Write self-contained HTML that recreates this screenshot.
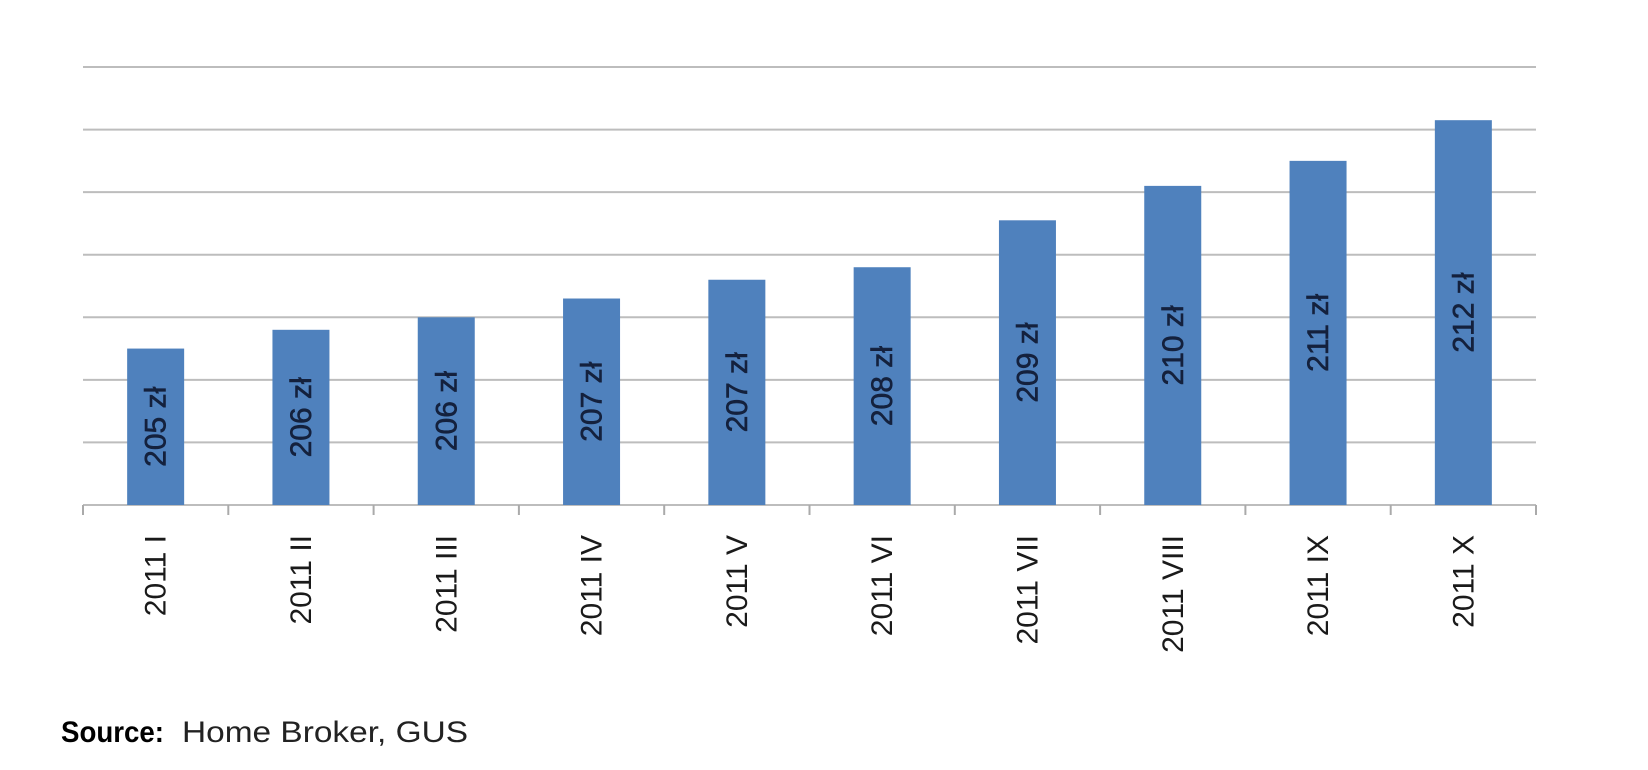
<!DOCTYPE html>
<html><head><meta charset="utf-8"><style>
html,body{margin:0;padding:0;background:#fff;width:1648px;height:770px;overflow:hidden}
svg{display:block}
</style></head><body>
<svg id="chart" width="1648" height="770" xmlns="http://www.w3.org/2000/svg">
<g id="grid"></g>
<g id="bars"></g>
<g id="xaxis"></g>
<text x="61" y="742" font-family="'Liberation Sans',sans-serif" font-weight="bold" font-size="30" fill="#000" textLength="103" lengthAdjust="spacingAndGlyphs">Source:</text>
<text x="182" y="742" font-family="'Liberation Sans',sans-serif" font-size="30" fill="#222" textLength="286" lengthAdjust="spacingAndGlyphs">Home Broker, GUS</text>
</svg>
<script>
const categories = ["2011 I","2011 II","2011 III","2011 IV","2011 V","2011 VI","2011 VII","2011 VIII","2011 IX","2011 X"];
const values = [205.0,205.6,206.0,206.6,207.2,207.6,209.1,210.2,211.0,212.3];
const valueLabels = ["205 zł","206 zł","206 zł","207 zł","207 zł","208 zł","209 zł","210 zł","211 zł","212 zł"];
const yTicks = [200,202,204,206,208,210,212,214];

const NS = "http://www.w3.org/2000/svg";
const plotLeft = 83, plotRight = 1536, plotBase = 505, plotTop = 67;
const yMin = 200, yMax = 214;
const yScale = v => plotBase - (v - yMin) / (yMax - yMin) * (plotBase - plotTop);
const band = (plotRight - plotLeft) / categories.length;
const xc = i => plotLeft + band * (i + 0.5);
const barW = 57;

function mk(tag, attrs, parent) {
  const e = document.createElementNS(NS, tag);
  for (const k in attrs) e.setAttribute(k, attrs[k]);
  parent.appendChild(e);
  return e;
}
const grid = document.getElementById('grid');
yTicks.forEach(t => {
  const l = mk('line', {x1: plotLeft, x2: plotRight, y1: yScale(t), y2: yScale(t), stroke: '#bdbdbd', 'stroke-width': 2}, grid);
  
  
});
const xaxis = document.getElementById('xaxis');
for (let i = 0; i <= categories.length; i++) {
  const tx = plotLeft + band * i;
  const t = mk('line', {x1: tx, x2: tx, y1: plotBase, y2: plotBase + 10, stroke: '#aaa', 'stroke-width': 2}, xaxis);
  
  
}
const bars = document.getElementById('bars');
categories.forEach((c, i) => {
  const r = mk('rect', {x: xc(i) - barW / 2, y: yScale(values[i]), width: barW, height: plotBase - yScale(values[i]), fill: '#4f81bd'}, bars);
  
  
  const cy = (yScale(values[i]) + plotBase) / 2;
  const vl = mk('text', {x: 0, y: 0, transform: `translate(${xc(i) + 10},${cy}) rotate(-90)`, 'text-anchor': 'middle', 'font-family': "'Liberation Sans',sans-serif", 'font-size': 30, 'stroke': '#14213d', 'stroke-width': 0.6, fill: '#14213d'}, bars);
  vl.textContent = valueLabels[i];
  
  
  const cl = mk('text', {x: 0, y: 0, transform: `translate(${xc(i) + 10},535) rotate(-90)`, 'text-anchor': 'end', 'font-family': "'Liberation Sans',sans-serif", 'font-size': 30, fill: '#1a1a1a'}, xaxis);
  cl.textContent = c;
  
  
});
</script>
</body></html>
